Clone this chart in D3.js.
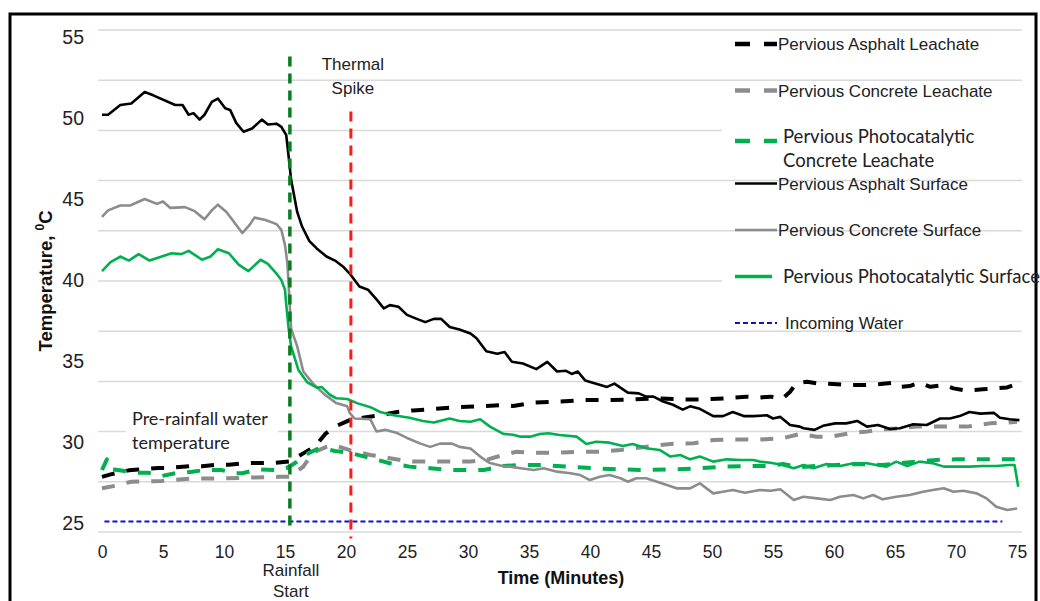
<!DOCTYPE html>
<html>
<head>
<meta charset="utf-8">
<script src="https://cdnjs.cloudflare.com/ajax/libs/d3/7.8.5/d3.min.js"></script>
<style>
  html, body { margin: 0; padding: 0; background: #fff; }
  svg { display: block; }
</style>
</head>
<body>
<svg width="1040" height="601"></svg>
<script>
// ---- data (minute, temperature °C) ----
const xTicks = [0, 5, 10, 15, 20, 25, 30, 35, 40, 45, 50, 55, 60, 65, 70, 75];
const yTicks = [25, 30, 35, 40, 45, 50, 55];

const asphaltLeachate = [[0,27.85],[0.7,28.0],[2.2,28.25],[3.0,28.3],[4.6,28.4],[5.4,28.4],[7.2,28.5],[8.2,28.5],[9.5,28.6],[10.4,28.6],[11.7,28.7],[12.8,28.7],[14.2,28.72],[15.4,28.8],[16.5,29.3],[17.5,29.75],[18.3,30.5],[19.1,30.95],[20.3,31.35],[21.4,31.5],[22.8,31.65],[24.2,31.85],[25.5,31.95],[27.4,32.05],[29.1,32.15],[30.7,32.2],[32.9,32.28],[33.7,32.22],[35.4,32.43],[37.3,32.49],[39.5,32.59],[41.6,32.59],[43.6,32.63],[45.5,32.69],[47.4,32.63],[49.3,32.63],[51.2,32.69],[52.8,32.8],[53.9,32.75],[54.8,32.8],[55.8,32.69],[56.4,33.1],[56.9,33.62],[57.8,33.72],[58.6,33.62],[59.9,33.58],[61.3,33.52],[62.7,33.52],[63.8,33.58],[64.9,33.66],[65.4,33.41],[66.2,33.45],[67.0,33.66],[67.9,33.41],[69.0,33.52],[69.8,33.31],[70.9,33.17],[72.2,33.25],[73.3,33.31],[74.2,33.37],[75.0,33.58]];

const concreteLeachate = [[0,27.15],[1.1,27.3],[2.4,27.55],[4.9,27.6],[7.4,27.75],[9.5,27.75],[12.0,27.8],[14.5,27.85],[15.4,27.86],[16.5,28.48],[17.3,29.35],[18.4,29.7],[19.1,29.8],[20.3,29.5],[22.0,29.2],[23.6,29.0],[25.2,28.8],[26.9,28.8],[28.5,28.8],[30.2,28.8],[31.5,28.9],[32.9,29.2],[34.0,29.4],[35.4,29.34],[37.3,29.34],[39.2,29.4],[40.8,29.4],[42.5,29.5],[44.6,29.71],[46.6,29.88],[48.5,29.92],[50.1,30.12],[51.7,30.16],[53.7,30.14],[55.8,30.23],[57.2,30.49],[58.6,30.33],[59.7,30.33],[61.3,30.54],[62.7,30.64],[64.0,30.79],[65.4,30.85],[66.8,30.95],[68.7,30.95],[70.9,30.95],[72.8,31.15],[74.2,31.19],[75.0,31.25]];

const photoLeachate = [[0,28.27],[0.4,28.93],[0.7,28.31],[1.3,28.27],[2.7,28.1],[3.8,28.1],[4.9,27.9],[6.0,28.07],[7.4,28.17],[8.4,28.27],[9.8,28.27],[10.9,28.07],[11.5,28.07],[12.8,28.31],[14.2,28.27],[15.1,28.38],[15.8,28.69],[16.9,29.3],[17.6,29.55],[18.0,29.6],[19.1,29.45],[20.3,29.34],[22.0,29.0],[23.6,28.69],[25.2,28.48],[26.9,28.38],[28.5,28.27],[30.2,28.27],[31.3,28.27],[32.9,28.52],[34.4,28.58],[36.2,28.58],[38.1,28.48],[40.3,28.38],[42.5,28.31],[44.6,28.27],[46.8,28.31],[49.0,28.38],[51.2,28.48],[53.4,28.52],[54.5,28.52],[55.8,28.64],[57.2,28.44],[58.6,28.52],[60.2,28.58],[61.9,28.64],[64.0,28.58],[65.4,28.69],[66.8,28.79],[68.4,28.89],[70.0,28.93],[72.2,28.93],[75.0,28.93]];

const asphaltSurface = [[0,50.2],[0.5,50.2],[1.5,50.8],[2.4,50.9],[3.5,51.6],[4.2,51.4],[6.0,50.8],[6.6,50.8],[7.1,50.2],[7.5,50.3],[8.0,49.9],[8.4,50.2],[9.0,51.0],[9.5,51.2],[10.1,50.6],[10.5,50.5],[11.0,49.7],[11.6,49.15],[12.3,49.35],[13.1,49.9],[13.6,49.6],[14.3,49.65],[14.7,49.45],[15.1,48.95],[15.3,47.6],[15.5,46.2],[16.0,44.2],[16.4,43.3],[17.0,42.4],[17.6,41.95],[18.4,41.45],[19.1,41.2],[19.8,40.8],[20.3,40.4],[20.7,40.0],[21.1,39.6],[21.8,39.4],[22.5,38.8],[23.1,38.25],[23.6,38.45],[24.3,38.35],[25.0,37.85],[25.8,37.6],[26.5,37.4],[27.2,37.6],[27.8,37.6],[28.5,37.1],[29.3,36.95],[30.2,36.7],[30.7,36.4],[31.5,35.6],[32.4,35.45],[33.0,35.55],[33.6,34.95],[34.5,34.85],[35.6,34.5],[36.5,34.95],[37.3,34.35],[38.0,34.4],[38.5,34.2],[39.0,34.35],[39.6,33.8],[40.5,33.6],[41.4,33.4],[42.0,33.6],[43.1,33.05],[44.0,33.0],[44.6,32.8],[45.2,32.8],[46.0,32.5],[46.8,32.3],[47.6,32.0],[48.2,32.2],[49.0,32.05],[50.1,31.6],[50.9,31.6],[51.7,31.85],[52.6,31.6],[53.4,31.6],[54.5,31.65],[55.0,31.45],[55.6,31.55],[56.4,31.05],[57.2,30.95],[57.5,30.85],[58.4,30.75],[59.1,31.0],[60.1,31.15],[61.0,31.15],[61.9,31.3],[62.7,30.95],[63.6,31.05],[64.6,30.8],[65.4,30.85],[66.5,31.1],[67.6,31.05],[68.7,31.45],[69.5,31.45],[70.3,31.6],[71.1,31.85],[72.0,31.75],[73.1,31.8],[73.6,31.5],[74.4,31.4],[75.2,31.35]];

const concreteSurface = [[0,43.9],[0.5,44.3],[1.5,44.6],[2.3,44.6],[3.5,45.0],[4.5,44.7],[5.0,44.85],[5.6,44.45],[6.8,44.5],[7.6,44.25],[8.4,43.75],[9.0,44.3],[9.5,44.65],[10.2,44.2],[11.5,42.9],[12.1,43.4],[12.5,43.85],[13.4,43.7],[14.3,43.45],[14.7,43.1],[15.0,42.15],[15.2,41.0],[15.5,37.0],[16.0,35.9],[16.5,34.35],[17.3,33.6],[18.3,32.9],[19.2,32.4],[20.1,32.2],[20.3,31.8],[20.7,31.45],[22.0,31.4],[22.5,30.65],[23.2,30.75],[24.2,30.55],[25.0,30.25],[26.1,29.9],[26.9,29.7],[27.7,29.9],[28.7,29.9],[29.3,29.7],[30.2,29.6],[31.0,29.1],[31.8,28.7],[32.9,28.5],[33.4,28.48],[34.3,28.38],[35.4,28.27],[36.2,28.38],[37.3,28.17],[38.4,28.07],[39.2,27.96],[40.0,27.65],[40.8,27.86],[41.6,27.96],[42.5,27.76],[43.1,27.55],[43.8,27.76],[44.6,27.76],[45.5,27.55],[46.3,27.35],[47.1,27.14],[48.2,27.14],[49.0,27.45],[50.1,26.83],[50.9,26.93],[51.7,27.04],[52.7,26.87],[53.9,27.04],[54.8,26.99],[55.6,27.08],[56.7,26.42],[57.5,26.62],[58.6,26.52],[59.7,26.42],[60.5,26.62],[61.6,26.73],[62.4,26.52],[63.2,26.73],[64.0,26.46],[65.1,26.62],[66.2,26.73],[67.3,26.93],[68.1,27.04],[69.0,27.14],[69.8,26.93],[70.6,26.99],[71.7,26.83],[72.5,26.52],[73.3,26.0],[74.2,25.8],[75.0,25.9]];

const photoSurface = [[0,40.55],[0.7,41.1],[1.5,41.45],[2.2,41.2],[3.0,41.6],[3.9,41.2],[4.9,41.45],[5.7,41.65],[6.5,41.6],[7.1,41.8],[8.2,41.25],[8.9,41.45],[9.5,41.9],[10.4,41.65],[11.2,40.95],[12.0,40.55],[13.0,41.25],[13.6,41.0],[14.3,40.4],[14.7,40.0],[15.0,39.4],[15.1,38.5],[15.3,37.0],[15.5,35.9],[16.1,34.45],[16.8,33.7],[17.6,33.35],[18.0,33.4],[18.7,32.9],[19.2,32.7],[20.1,32.65],[20.9,32.4],[22.0,32.15],[22.8,31.85],[23.9,31.65],[25.2,31.5],[26.3,31.3],[27.2,31.2],[28.5,31.45],[29.3,31.3],[30.2,31.25],[31.0,31.4],[31.8,30.95],[32.9,30.5],[33.7,30.45],[34.3,30.33],[35.1,30.33],[35.9,30.49],[36.6,30.54],[37.5,30.43],[38.9,30.33],[39.7,29.88],[40.5,30.02],[41.6,29.96],[42.7,29.75],[43.5,29.88],[44.6,29.61],[45.7,29.51],[46.6,29.1],[47.4,29.2],[48.2,28.93],[49.0,29.1],[50.1,28.79],[51.2,28.93],[52.3,28.89],[53.4,28.89],[53.9,28.79],[54.8,28.72],[55.8,28.58],[56.7,28.38],[57.5,28.58],[58.3,28.38],[59.4,28.64],[60.5,28.52],[61.6,28.69],[62.7,28.69],[63.5,28.58],[64.3,28.48],[65.1,28.79],[66.0,28.52],[67.0,28.79],[68.1,28.69],[69.0,28.48],[70.0,28.48],[71.1,28.48],[72.2,28.52],[73.3,28.52],[74.4,28.58],[74.8,28.58],[75.1,27.24]];

const incomingWater = [[0.2,25.1],[73.8,25.1]];

const rainfallStart = 15.4;   // minute
const thermalSpike = 20.4;    // minute

// ---- layout ----
const svg = d3.select("svg");
const x = d3.scaleLinear().domain([0, 75]).range([102, 1017]);
const y = d3.scaleLinear().domain([25, 55]).range([523, 37]);

const arial = "Liberation Sans, Arial, sans-serif";
const calibri = "Lato, Carlito, sans-serif";
const green = "#00b050";
const grey = "#8c8c8c";

// outer frame
svg.append("rect")
   .attr("x", 10).attr("y", 14)
   .attr("width", 1026).attr("height", 600)
   .attr("fill", "none").attr("stroke", "#000").attr("stroke-width", 3);

// excel gridlines (10 even bands across the plot area)
const grid = d3.scaleLinear().domain([0, 10]).range([532, 30]);
svg.append("g").selectAll("line")
   .data(d3.range(11))
   .join("line")
   .attr("x1", 98).attr("x2", 1022)
   .attr("y1", d => grid(d)).attr("y2", d => grid(d))
   .attr("stroke", "#d9d9d9").attr("stroke-width", 1.5);

// axes (labels only)
const xAxis = svg.append("g")
   .attr("transform", "translate(0,540)")
   .call(d3.axisBottom(x).tickValues(xTicks).tickSize(0).tickPadding(6));
xAxis.select(".domain").remove();
xAxis.selectAll("text")
   .attr("font-family", arial).attr("font-size", 17.5).attr("fill", "#222");

const yAxis = svg.append("g")
   .attr("transform", "translate(86,0)")
   .call(d3.axisLeft(y).tickValues(yTicks).tickSize(0).tickPadding(2));
yAxis.select(".domain").remove();
yAxis.selectAll("text")
   .attr("font-family", arial).attr("font-size", 19.5).attr("fill", "#222");

// series
const series = [
  { name: "Pervious Asphalt Leachate", data: asphaltLeachate, color: "#000", width: 4, dash: "13,12" },
  { name: "Pervious Concrete Leachate", data: concreteLeachate, color: grey, width: 4, dash: "13,12" },
  { name: ["Pervious Photocatalytic", "Concrete Leachate"], data: photoLeachate, color: green, width: 4, dash: "13,12", calibri: true },
  { name: "Pervious Asphalt Surface", data: asphaltSurface, color: "#000", width: 2.6, dash: null },
  { name: "Pervious Concrete Surface", data: concreteSurface, color: grey, width: 2.6, dash: null },
  { name: "Pervious Photocatalytic Surface", data: photoSurface, color: green, width: 2.6, dash: null, calibri: true },
  { name: "Incoming Water", data: incomingWater, color: "#1010d0", width: 2, dash: "5,3" }
];

const line = d3.line().x(d => x(d[0])).y(d => y(d[1]));

svg.append("g").selectAll("path")
   .data(series)
   .join("path")
   .attr("d", d => line(d.data))
   .attr("fill", "none")
   .attr("stroke", d => d.color)
   .attr("stroke-width", d => d.width)
   .attr("stroke-dasharray", d => d.dash)
   .attr("stroke-linejoin", "round");

// text box behind the pre-rainfall note
svg.append("rect")
   .attr("x", 126).attr("y", 404).attr("width", 152).attr("height", 50)
   .attr("fill", "#fff");
const note = svg.append("text")
   .attr("font-family", calibri).attr("font-size", 18).attr("fill", "#222");
note.append("tspan").attr("x", 132).attr("y", 425).text("Pre-rainfall water");
note.append("tspan").attr("x", 132).attr("y", 449).text("temperature");

// event markers
svg.append("line")
   .attr("x1", x(rainfallStart)).attr("x2", x(rainfallStart))
   .attr("y1", y(53.8)).attr("y2", y(24.75))
   .attr("stroke", "#0a7d1f").attr("stroke-width", 3.5)
   .attr("stroke-dasharray", "10,7");

svg.append("line")
   .attr("x1", x(thermalSpike)).attr("x2", x(thermalSpike))
   .attr("y1", y(50.4)).attr("y2", y(24.05))
   .attr("stroke", "#ff1a1a").attr("stroke-width", 3)
   .attr("stroke-dasharray", "10,7");

const note2 = (txt, px, py) => svg.append("text")
   .attr("x", px).attr("y", py)
   .attr("text-anchor", "middle")
   .attr("font-family", arial).attr("font-size", 17).attr("fill", "#222")
   .text(txt);
note2("Thermal", x(thermalSpike) + 2, 70);
note2("Spike", x(thermalSpike) + 2, 94);
note2("Rainfall", x(rainfallStart) + 1, 576);
note2("Start", x(rainfallStart) + 1, 597);

// axis titles
svg.append("text")
   .attr("x", 561).attr("y", 584)
   .attr("text-anchor", "middle")
   .attr("font-family", arial).attr("font-size", 18).attr("font-weight", "bold")
   .attr("fill", "#111")
   .text("Time (Minutes)");

const yTitle = svg.append("text")
   .attr("transform", "translate(52,281) rotate(-90)")
   .attr("text-anchor", "middle")
   .attr("font-family", arial).attr("font-size", 18.5).attr("font-weight", "bold")
   .attr("fill", "#111");
yTitle.append("tspan").text("Temperature, ");
yTitle.append("tspan").attr("font-size", 12).attr("dy", -8).text("0");
yTitle.append("tspan").attr("dy", 8).text("C");

// legend
const legendY = i => 44 + i * 46.5;
const legend = svg.append("g");

// white boxes behind the two photocatalytic entries
legend.append("rect").attr("x", 722).attr("y", 118).attr("width", 302).attr("height", 52).attr("fill", "#fff");
legend.append("rect").attr("x", 722).attr("y", 263).attr("width", 302).attr("height", 28).attr("fill", "#fff");

series.forEach((s, i) => {
  const cy = legendY(i);
  const markerY = Array.isArray(s.name) ? cy + 4 : cy;
  const dashed = s.dash && s.width > 3;
  if (dashed) {
    legend.append("line")
      .attr("x1", 735).attr("x2", 750).attr("y1", markerY).attr("y2", markerY)
      .attr("stroke", s.color).attr("stroke-width", 4.5);
    legend.append("line")
      .attr("x1", 764).attr("x2", 777).attr("y1", markerY).attr("y2", markerY)
      .attr("stroke", s.color).attr("stroke-width", 4.5);
  } else {
    legend.append("line")
      .attr("x1", 735).attr("x2", s.calibri ? 772 : 777).attr("y1", markerY).attr("y2", markerY)
      .attr("stroke", s.color)
      .attr("stroke-width", s.dash ? 2 : (s.calibri ? 3.5 : 2.6))
      .attr("stroke-dasharray", s.dash);
  }
  const tx = s.calibri ? 783 : (i === 6 ? 785 : 778);
  const t = legend.append("text")
    .attr("font-family", s.calibri ? calibri : arial)
    .attr("font-size", s.calibri ? 18.5 : 17)
    .attr("fill", "#222");
  const lines = Array.isArray(s.name) ? s.name : [s.name];
  lines.forEach((ln, k) => {
    t.append("tspan").attr("x", tx).attr("y", cy + 6 + k * 24).text(ln);
  });
});
</script>
</body>
</html>
